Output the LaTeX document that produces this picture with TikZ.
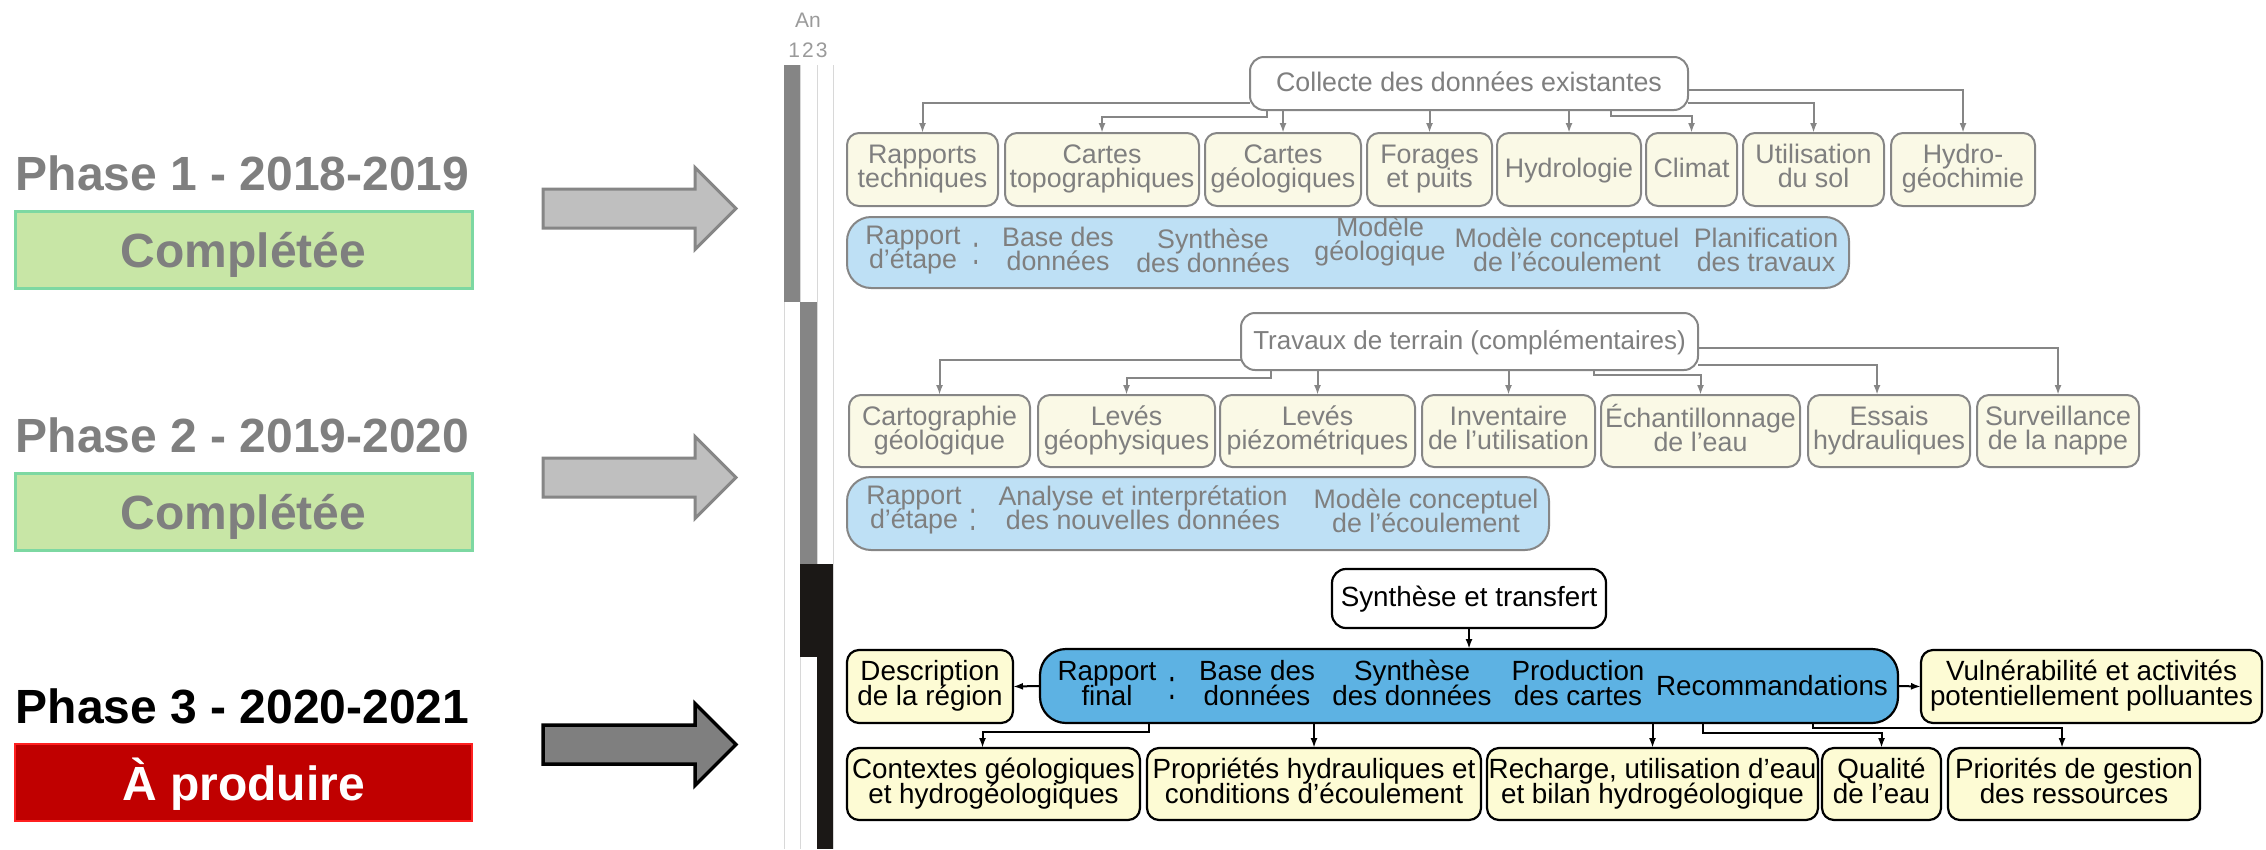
\documentclass[tikz,border=0pt]{standalone}
\usepackage{fontspec}
\setmainfont{Liberation Sans}
\usetikzlibrary{arrows.meta,calc}

\definecolor{phgray}{HTML}{7F7F7F}
\definecolor{donegreen}{HTML}{C8E6A6}
\definecolor{doneedge}{HTML}{7DD8A2}
\definecolor{todored}{HTML}{C00000}
\definecolor{todoedge}{HTML}{FF2020}
\definecolor{arrowfill}{HTML}{BFBFBF}
\definecolor{creampale}{HTML}{FAF9E6}
\definecolor{cream}{HTML}{FDFBD4}
\definecolor{bluepale}{HTML}{BEE0F5}
\definecolor{bluemid}{HTML}{5DB2E3}
\definecolor{linegray}{HTML}{868686}
\definecolor{bargray}{HTML}{858585}
\definecolor{barblack}{HTML}{1B1816}
\definecolor{barline}{HTML}{D8D8D8}
\definecolor{yeargray}{HTML}{9A9A9A}

% fixed first-line height and last-line depth for every text block
\newcommand\tst{\rule[-7pt]{0pt}{30pt}}
\newcommand\flowfontA{\fontsize{26.8}{24}\selectfont}
\newcommand\flowfontB{\fontsize{27.8}{25}\selectfont}
\newcommand\phasefont{\fontsize{48}{55}\selectfont\bfseries}

\tikzset{
  every node/.style={inner sep=0pt, outer sep=0pt},
  phasetxt/.style={font=\phasefont, anchor=base},
  statebox/.style={font=\phasefont, text height=35pt, text depth=0pt,
    minimum width=457pt, minimum height=77pt},
  bigarrow/.pic={\draw[pic actions] (0,-19.5) -- (152,-19.5) -- (152,-41) -- (193,0)
    -- (152,41) -- (152,19.5) -- (0,19.5) -- cycle;},
  yeartxt/.style={font=\fontsize{21}{24}\selectfont, text=yeargray},
  flowtxt/.style={align=center, font=\flowfontA,
    execute at begin node=\tst, execute at end node=\tst, text=phgray},
  flowtxtb/.style={align=center, font=\flowfontB,
    execute at begin node=\tst, execute at end node=\tst, text=black},
  headbox/.style={flowtxt, draw=linegray, line width=2pt, fill=white, rounded corners=14pt},
  ybox/.style={flowtxt, draw=linegray, line width=2pt, fill=creampale, rounded corners=12pt},
  bbox/.style={draw=linegray, line width=2pt, fill=bluepale, rounded corners=24pt},
  headboxb/.style={flowtxtb, draw=black, line width=2.2pt, fill=white, rounded corners=14pt},
  yboxb/.style={flowtxtb, draw=black, line width=2.2pt, fill=cream, rounded corners=12pt},
  bboxb/.style={draw=black, line width=2.2pt, fill=bluemid, rounded corners=26pt},
  conn/.style={draw=linegray, line width=2pt, -{Latex[length=10pt,width=7pt]}},
  connb/.style={draw=black, line width=2pt, -{Latex[length=10pt,width=7pt]}},
  colonmark/.style={anchor=base}
}

\begin{document}
\lineskiplimit=-100pt\relax
\begin{tikzpicture}[x=1pt,y=-1pt]
\useasboundingbox (0,0) rectangle (2266,849);

% ---------- phases on the left ----------
\node[phasetxt, text=phgray] (ph1) at (242.5,190) {Phase 1 - 2018-2019};
\node[statebox, draw=doneedge, line width=3pt, fill=donegreen, text=phgray] (st1) at (243.5,249.5) {Complétée};
\node[phasetxt, text=phgray] (ph2) at (242.5,452) {Phase 2 - 2019-2020};
\node[statebox, draw=doneedge, line width=3pt, fill=donegreen, text=phgray] (st2) at (243.5,512) {Complétée};
\node[phasetxt, text=black] (ph3) at (242.5,723) {Phase 3 - 2020-2021};
\node[statebox, draw=todoedge, line width=1.5pt, fill=todored, text=white] (st3) at (243.5,782.5) {À produire};

\pic[draw=linegray, fill=arrowfill, line width=3pt] at (543,208.5) {bigarrow};
\pic[draw=linegray, fill=arrowfill, line width=3pt] at (543,477.5) {bigarrow};
\pic[draw=black, fill=phgray, line width=3.5pt] at (543,744.5) {bigarrow};

% ---------- yearly bar ----------
\node[yeartxt] (an) at (808,20) {An};
\node[yeartxt] (yrs) at (808,50) {1\kern2pt2\kern2pt3};
\foreach \xx in {784,800,817,833} \draw[barline, line width=1pt] (\xx,65) -- (\xx,849);
\fill[bargray] (784,65) rectangle (800,302);
\fill[bargray] (800,302) rectangle (817,564);
\fill[barblack] (800,564) rectangle (833,657);
\fill[barblack] (817,657) rectangle (833,849);

% ---------- phase 1 : existing data ----------
\node[headbox, minimum width=438pt, minimum height=53pt] (col) at (1469,83.5) {Collecte des données existantes};

\node[ybox, minimum width=151pt, minimum height=73pt] (rap) at (922.5,169.5) {Rapports\\techniques};
\node[ybox, minimum width=194pt, minimum height=73pt] (ctopo) at (1102,169.5) {Cartes\\topographiques};
\node[ybox, minimum width=156pt, minimum height=73pt] (cgeo) at (1283,169.5) {Cartes\\géologiques};
\node[ybox, minimum width=125pt, minimum height=73pt] (forg) at (1429.5,169.5) {Forages\\et puits};
\node[ybox, minimum width=144pt, minimum height=73pt] (hydr) at (1569,169.5) {Hydrologie};
\node[ybox, minimum width=91pt, minimum height=73pt] (clim) at (1691.5,169.5) {Climat};
\node[ybox, minimum width=141pt, minimum height=73pt] (util) at (1813.5,169.5) {Utilisation\\du sol};
\node[ybox, minimum width=144pt, minimum height=73pt] (hgeo) at (1963,169.5) {Hydro-\\géochimie};

\draw[conn] (col.west) ++(0,19.5) -| (rap.north);
\draw[conn] (col.south west) ++(17,0) -- ++(0,7) -| (ctopo.north);
\draw[conn] (col.south -| cgeo.north) -- (cgeo.north);
\draw[conn] (col.south -| forg.north) -- (forg.north);
\draw[conn] (col.south -| hydr.north) -- (hydr.north);
\draw[conn] (col.south east) ++(-77,0) -- ++(0,6) -| (clim.north);
\draw[conn] (col.east) ++(0,19.5) -| (util.north);
\draw[conn] (col.east) ++(0,6.5) -| (hgeo.north);

\node[bbox, minimum width=1002pt, minimum height=71pt] (blA) at (1348,252.5) {};
\node[flowtxt] (blAa) at (913,251) {Rapport\\d’étape};
\node[flowtxt, colonmark] (blAc) at (976,264) {\scalebox{1}[1.5]{:}};
\node[flowtxt] (blAb) at (1058,252) {Base des\\données};
\node[flowtxt] (blAs) at (1213,254) {Synthèse\\des données};
\node[flowtxt] (blAm) at (1380,242) {Modèle\\géologique};
\node[flowtxt] (blAe) at (1567,253) {Modèle conceptuel\\de l’écoulement};
\node[flowtxt] (blAp) at (1766,253) {Planification\\des travaux};

% ---------- phase 2 : field work ----------
\node[headbox, font=\fontsize{26}{24}\selectfont, minimum width=457pt, minimum height=57pt] (tra) at (1469.5,341.5) {Travaux de terrain (complémentaires)};

\node[ybox, minimum width=181pt, minimum height=72pt] (carto) at (939.5,431) {Cartographie\\géologique};
\node[ybox, minimum width=177pt, minimum height=72pt] (lgeo) at (1126.5,431) {Levés\\géophysiques};
\node[ybox, minimum width=195pt, minimum height=72pt] (lpiez) at (1317.5,431) {Levés\\piézométriques};
\node[ybox, minimum width=173pt, minimum height=72pt] (inve) at (1508.5,431) {Inventaire\\de l’utilisation};
\node[ybox, minimum width=199pt, minimum height=72pt] (echa) at (1700.5,431) {Échantillonnage\\de l’eau};
\node[ybox, minimum width=162pt, minimum height=72pt] (essa) at (1889,431) {Essais\\hydrauliques};
\node[ybox, minimum width=162pt, minimum height=72pt] (surv) at (2058,431) {Surveillance\\de la nappe};

\draw[conn] (tra.west) ++(0,18.5) -| (carto.north);
\draw[conn] (tra.south west) ++(30,0) -- ++(0,8) -| (lgeo.north);
\draw[conn] (tra.south -| lpiez.north) -- (lpiez.north);
\draw[conn] (tra.south -| inve.north) -- (inve.north);
\draw[conn] (tra.south east) ++(-104,0) -- ++(0,5) -| (echa.north);
\draw[conn] (tra.east) ++(0,23.5) -| ([xshift=-12pt]essa.north);
\draw[conn] (tra.east) ++(0,6.5) -| (surv.north);

\node[bbox, minimum width=702pt, minimum height=73pt] (blB) at (1198,513.5) {};
\node[flowtxt] (blBa) at (914,511) {Rapport\\d’étape};
\node[flowtxt, colonmark] (blBc) at (973,530) {\scalebox{1}[1.5]{:}};
\node[flowtxt] (blBn) at (1143,511) {Analyse et interprétation\\des nouvelles données};
\node[flowtxt] (blBe) at (1426,514) {Modèle conceptuel\\de l’écoulement};

% ---------- phase 3 : synthesis ----------
\node[headboxb, minimum width=274pt, minimum height=59pt] (syn) at (1469,598.5) {Synthèse et transfert};

\node[bboxb, minimum width=858pt, minimum height=74pt] (blC) at (1469,686) {};
\node[flowtxtb] (blCa) at (1107,686.5) {Rapport\\final};
\node[flowtxtb, colonmark] (blCc) at (1172,699) {\scalebox{1}[1.5]{:}};
\node[flowtxtb] (blCb) at (1257,686.5) {Base des\\données};
\node[flowtxtb] (blCs) at (1412,686.5) {Synthèse\\des données};
\node[flowtxtb] (blCp) at (1578,686.5) {Production\\des cartes};
\node[flowtxtb] (blCr) at (1772,687) {Recommandations};

\draw[connb] (syn.south) -- (blC.north);

\node[yboxb, minimum width=166pt, minimum height=73pt] (desc) at (930,686.5) {Description\\de la région};
\node[yboxb, minimum width=341pt, minimum height=73pt] (vuln) at (2091.5,686.5) {Vulnérabilité et activités\\potentiellement polluantes};
\draw[connb] (blC.west) -- (desc.east);
\draw[connb] (blC.east) -- (vuln.west);

\node[yboxb, minimum width=293pt, minimum height=72pt] (ctxt) at (993.5,784) {Contextes géologiques\\et hydrogéologiques};
\node[yboxb, minimum width=334pt, minimum height=72pt] (prop) at (1314,784) {Propriétés hydrauliques et\\conditions d’écoulement};
\node[yboxb, minimum width=331pt, minimum height=72pt] (rech) at (1652.5,784) {Recharge, utilisation d’eau\\et bilan hydrogéologique};
\node[yboxb, minimum width=119pt, minimum height=72pt] (qual) at (1881.5,784) {Qualité\\de l’eau};
\node[yboxb, minimum width=252pt, minimum height=72pt] (prio) at (2074,784) {Priorités de gestion\\des ressources};

\draw[connb] (blC.south west) ++(109,0) -- ++(0,9) -| ([xshift=-11pt]ctxt.north);
\draw[connb] (blC.south -| prop.north) -- (prop.north);
\draw[connb] (blC.south -| rech.north) -- (rech.north);
\draw[connb] (blC.south west) ++(663,0) -- ++(0,10) -| (qual.north);
\draw[connb] (blC.south west) ++(773,0) -- ++(0,5) -| ([xshift=-12pt]prio.north);
\end{tikzpicture}
\end{document}
